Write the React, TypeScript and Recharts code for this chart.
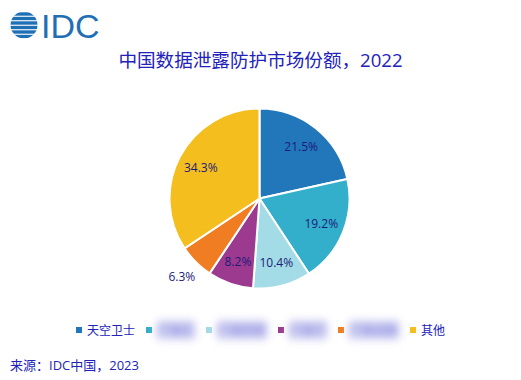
import { PieChart, Pie, Cell, Legend } from 'recharts';

const vendors = ['天空卫士', '厂商乙', '厂商丙某', '厂商丁', '厂商戊某', '其他'];
const shares = [21.5, 19.2, 10.4, 8.2, 6.3, 34.3];
const colors = ['#2277bb', '#33aecb', '#a3dbe6', '#9b3a8e', '#f07d22', '#f4be1e'];
const hidden = [false, true, true, true, true, false];

const data = vendors.map((name, i) => ({ name, value: shares[i] }));

const FONT = '"Open Sans", "Noto Sans CJK SC", sans-serif';
const TEXT = '#2222bb';
const RADIAN = Math.PI / 180;

function renderLabel(props: any) {
  const { cx, cy, midAngle, outerRadius, value } = props;
  const r = value < 7 ? outerRadius * 1.22 : outerRadius * 0.74;
  const x = cx + r * Math.cos(-midAngle * RADIAN);
  const y = cy + r * Math.sin(-midAngle * RADIAN);
  return (
    <text x={x} y={y} fill="#1c1c7a" fontSize={12} fontFamily={FONT} textAnchor="middle" dominantBaseline="central">
      {value.toFixed(1)}%
    </text>
  );
}

function LegendRow() {
  return (
    <div style={{ display: 'flex', justifyContent: 'center', alignItems: 'center', gap: 11, fontFamily: FONT, fontSize: 12, color: TEXT }}>
      {vendors.map((name, i) => (
        <div key={name} style={{ display: 'flex', alignItems: 'center' }}>
          <span style={{ width: 6, height: 6, background: colors[i], marginRight: 5, display: 'inline-block' }} />
          <span
            style={
              hidden[i]
                ? { filter: 'blur(4px)', color: '#8080e0', background: '#c8c8f0', padding: '0 1px' }
                : undefined
            }
          >
            {name}
          </span>
        </div>
      ))}
    </div>
  );
}

function Logo() {
  const stripes = [14, 18.5, 23, 27.5, 32, 36.5];
  return (
    <svg width={110} height={46} style={{ position: 'absolute', left: 0, top: 0 }}>
      <defs>
        <clipPath id="globe">
          <circle cx={24} cy={25} r={13.5} />
        </clipPath>
      </defs>
      <g clipPath="url(#globe)">
        {stripes.map((y) => (
          <rect key={y} x={8} y={y - 1.7} width={32} height={3.4} fill="#1f6fb5" />
        ))}
      </g>
      <text x={41} y={38} fill="#1f6fb5" fontSize={34} fontFamily='"Liberation Sans", Arial, sans-serif'>
        IDC
      </text>
    </svg>
  );
}

export default function App() {
  return (
    <div style={{ position: 'absolute', left: 0, top: 0, width: 521, height: 380, background: '#fff', fontFamily: FONT }}>
      <Logo />
      <div style={{ position: 'absolute', top: 45, left: 0, width: 521, textAlign: 'center', fontSize: 18.6, color: TEXT }}>
        中国数据泄露防护市场份额，2022
      </div>
      <PieChart width={521} height={380}>
        <Pie
          data={data}
          dataKey="value"
          nameKey="name"
          cx={254.5}
          cy={193.5}
          outerRadius={90}
          startAngle={90}
          endAngle={-270}
          stroke="#ffffff"
          strokeWidth={2}
          label={renderLabel}
          labelLine={false}
          isAnimationActive={false}
        >
          {data.map((d, i) => (
            <Cell key={d.name} fill={colors[i]} />
          ))}
        </Pie>
        <Legend content={() => <LegendRow />} wrapperStyle={{ position: 'absolute', top: 321, left: 0, width: 521 }} />
      </PieChart>
      <div style={{ position: 'absolute', top: 355, left: 10, fontSize: 13, color: TEXT }}>来源：IDC中国，2023</div>
    </div>
  );
}
